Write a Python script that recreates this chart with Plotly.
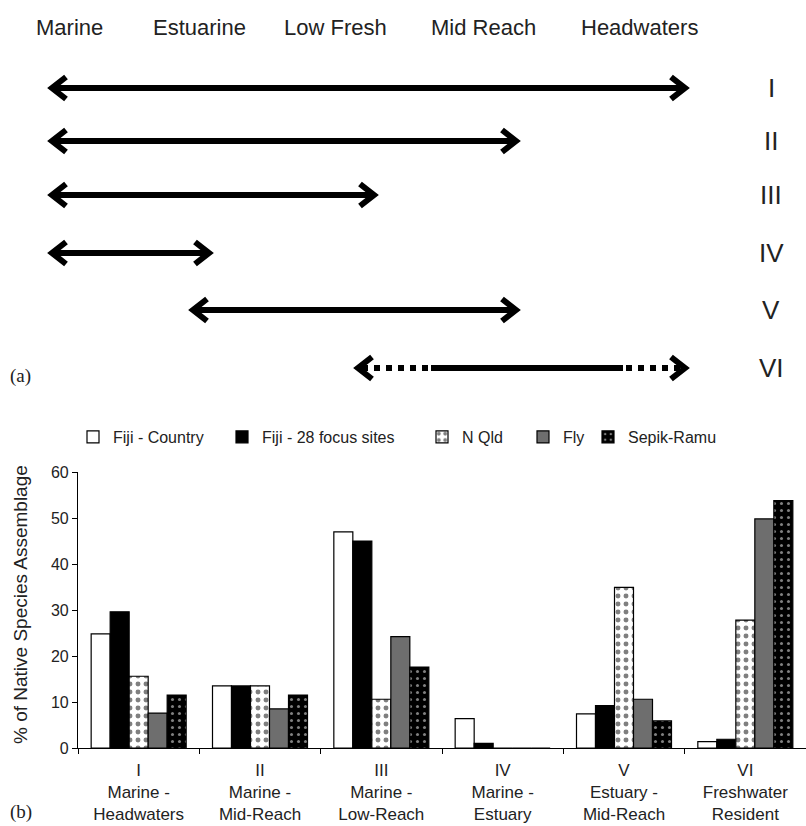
import plotly.graph_objects as go

# ---------------- data ----------------
categories = ["I", "II", "III", "IV", "V", "VI"]
category_desc = ["Marine -<br>Headwaters", "Marine -<br>Mid-Reach", "Marine -<br>Low-Reach",
                 "Marine -<br>Estuary", "Estuary -<br>Mid-Reach", "Freshwater<br>Resident"]
series_names = ["Fiji - Country", "Fiji - 28 focus sites", "N Qld", "Fly", "Sepik-Ramu"]
fiji_country = [24.8, 13.5, 47.0, 6.4, 7.4, 1.4]
fiji_focus = [29.6, 13.5, 45.0, 1.0, 9.2, 1.9]
n_qld = [15.6, 13.5, 10.6, 0.0, 34.9, 27.8]
fly = [7.6, 8.5, 24.2, 0.0, 10.6, 49.8]
sepik_ramu = [11.5, 11.5, 17.6, 0.0, 5.9, 53.8]
y_ticks = [0, 10, 20, 30, 40, 50, 60]

habitats = ["Marine", "Estuarine", "Low Fresh", "Mid Reach", "Headwaters"]
arrow_from = ["Marine", "Marine", "Marine", "Marine", "Estuarine", "Low Fresh"]
arrow_to = ["Headwaters", "Mid Reach", "Low Fresh", "Estuarine", "Mid Reach", "Headwaters"]
arrow_uncertain_ends = [False, False, False, False, False, True]

# ---------------- layout constants (schematic scale, pixel-like units) ----------------
W, H = 806, 826
zone_point = {"Marine": 60, "Estuarine": 201, "Low Fresh": 366, "Mid Reach": 508, "Headwaters": 677}
zone_label_x = {"Marine": 69, "Estuarine": 199, "Low Fresh": 335, "Mid Reach": 483, "Headwaters": 639}
end_pad = 12
row_y = [88, 141, 195, 253, 310, 368]
label_y = 27
numeral_x = 771
dash_left, dash_right = 77, 66
head_dx, head_dy = 14, 11
lw = 6
TXT = "#222222"
FONT = "Liberation Sans, Arial, sans-serif"
legend_text_x = [113, 262, 462, 563, 628]
legend_y = 437

fig = go.Figure()

# ---------------- panel (b): grouped bars ----------------
series_vals = [fiji_country, fiji_focus, n_qld, fly, sepik_ramu]
fills = ["white", "black", "white", "#6e6e6e", "black"]
patterns = [None, None,
            dict(shape=".", fgcolor="black", bgcolor="white", size=8, solidity=0.3),
            None,
            dict(shape=".", fgcolor="white", bgcolor="black", size=7, solidity=0.15)]
legend_ids = ["legend", "legend2", "legend3", "legend4", "legend5"]
for name, vals, fc, pat, lid in zip(series_names, series_vals, fills, patterns, legend_ids):
    marker = dict(color=fc, line=dict(color="black", width=1.2))
    if pat:
        marker["pattern"] = pat
    fig.add_trace(go.Bar(x=categories, y=vals, name=name, marker=marker,
                         xaxis="x", yaxis="y", legend=lid))

# ---------------- panel (a): migration-range arrows ----------------
for i, (a, b, unc) in enumerate(zip(arrow_from, arrow_to, arrow_uncertain_ends)):
    y = row_y[i]
    x0 = zone_point[a] - end_pad
    x1 = zone_point[b] + end_pad
    vx0, vx1 = x0 + 4, x1 - 4
    if unc:
        fig.add_trace(go.Scatter(x=[vx0 + 4, vx1 - 4], y=[y, y], mode="lines",
                                 line=dict(color="black", width=lw, dash="dot"),
                                 showlegend=False, hoverinfo="skip", xaxis="x2", yaxis="y2"))
        fig.add_trace(go.Scatter(x=[x0 + dash_left, x1 - dash_right], y=[y, y], mode="lines",
                                 line=dict(color="black", width=lw),
                                 showlegend=False, hoverinfo="skip", xaxis="x2", yaxis="y2"))
    else:
        fig.add_trace(go.Scatter(x=[vx0, vx1], y=[y, y], mode="lines",
                                 line=dict(color="black", width=lw),
                                 showlegend=False, hoverinfo="skip", xaxis="x2", yaxis="y2"))
    for vx, sgn in ((vx0, 1), (vx1, -1)):
        fig.add_trace(go.Scatter(x=[vx + sgn * head_dx, vx, vx + sgn * head_dx],
                                 y=[y - head_dy, y, y + head_dy], mode="lines",
                                 line=dict(color="black", width=lw),
                                 showlegend=False, hoverinfo="skip", xaxis="x2", yaxis="y2"))

annotations = []
for h in habitats:
    annotations.append(dict(x=zone_label_x[h], y=label_y, xref="x2", yref="y2", text=h,
                            showarrow=False, font=dict(family=FONT, size=22, color=TXT)))
for i, c in enumerate(categories):
    annotations.append(dict(x=numeral_x, y=row_y[i], xref="x2", yref="y2", text=c,
                            showarrow=False, font=dict(family=FONT, size=26, color=TXT)))
serif = "Liberation Serif, Times New Roman, serif"
annotations.append(dict(x=8, y=376, xref="x2", yref="y2", text="(a)", xanchor="left",
                        showarrow=False, font=dict(family=serif, size=19, color=TXT)))
annotations.append(dict(x=8, y=812, xref="x2", yref="y2", text="(b)", xanchor="left",
                        showarrow=False, font=dict(family=serif, size=19, color=TXT)))
annotations.append(dict(x=20, y=605, xref="x2", yref="y2", text="% of Native Species Assemblage",
                        textangle=-90, showarrow=False,
                        font=dict(family=FONT, size=19, color=TXT)))

ticktext = [f"{c}<br>{d}" for c, d in zip(categories, category_desc)]

legends = {}
for lid, tx in zip(legend_ids, legend_text_x):
    legends[lid] = dict(orientation="h", x=(tx - 40) / W, y=1 - legend_y / H,
                        xanchor="left", yanchor="middle",
                        font=dict(family=FONT, size=16, color=TXT),
                        bgcolor="rgba(0,0,0,0)", itemclick=False, itemdoubleclick=False)

fig.update_layout(
    width=W, height=H,
    margin=dict(l=0, r=0, t=0, b=0, pad=0, autoexpand=False),
    paper_bgcolor="white", plot_bgcolor="rgba(0,0,0,0)",
    barmode="group", bargap=0.217, bargroupgap=0,
    font=dict(family=FONT, color=TXT),
    showlegend=True,
    xaxis=dict(domain=[78 / W, 1], anchor="y", type="category", automargin=False,
               tickmode="array", tickvals=categories, ticktext=ticktext,
               showline=True, linecolor="black", linewidth=1.2,
               ticks="outside", ticklen=5, tickcolor="black", tickson="boundaries",
               ticklabelstandoff=6,
               showgrid=False, zeroline=False,
               tickfont=dict(family="Liberation Sans Narrow, Arial Narrow, " + FONT, size=17, color=TXT),
               range=[-0.5, 5.5]),
    yaxis=dict(domain=[(H - 748) / H, (H - 472) / H], anchor="x", range=[0, 60],
               automargin=False,
               tickvals=y_ticks, showline=True, linecolor="black", linewidth=1.2,
               ticks="outside", ticklen=5, tickcolor="black",
               showgrid=False, zeroline=False,
               tickfont=dict(family=FONT, size=16, color=TXT)),
    xaxis2=dict(domain=[0, 1], anchor="y2", range=[0, W], visible=False, fixedrange=True,
                automargin=False),
    yaxis2=dict(domain=[0, 1], anchor="x2", range=[H, 0], visible=False, fixedrange=True,
                automargin=False),
    annotations=annotations,
    **legends,
)

fig.write_html("out.html", config={"displayModeBar": False},
               post_script="document.body.style.margin='0';")
